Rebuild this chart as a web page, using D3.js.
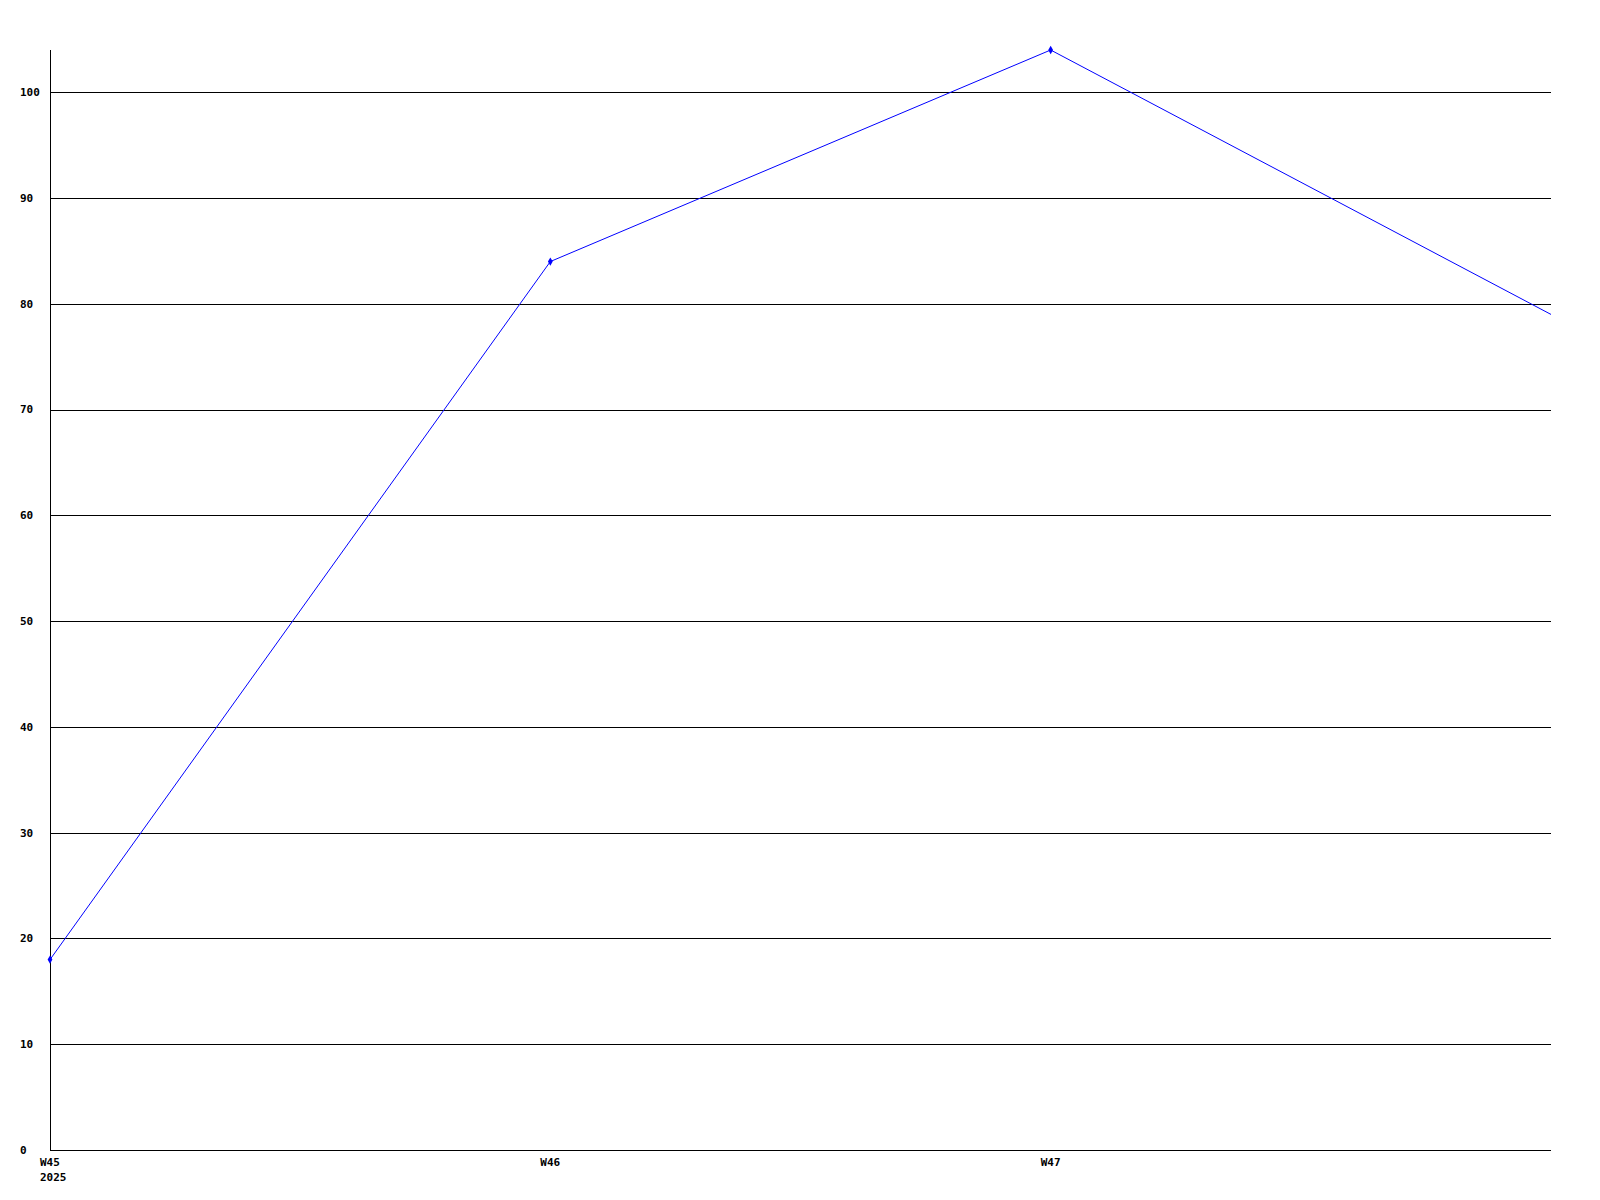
<!DOCTYPE html>
<html>
<head>
<meta charset="utf-8">
<script src="https://cdn.jsdelivr.net/npm/d3@7"></script>
<style>
  body { margin: 0; background: #fff; }
  text { font-family: "DejaVu Sans Mono", monospace; font-size: 11px; font-weight: bold; fill: #000; }
</style>
</head>
<body>
<div class="container"></div>
<script>
// weeks along the bottom, one value per week
var weeks = ["W45", "W46", "W47", "W48"];
var weekLabels = ["W45", "W46", "W47"];
var values = [18, 84, 104, 79];
var yTicks = [0, 10, 20, 30, 40, 50, 60, 70, 80, 90, 100];
var yearLabel = "2025";

var width = 1600,
    height = 1200,
    margin = {top: 50, right: 49, bottom: 50, left: 50};

var svg = d3.select("div.container").append("svg")
    .attr("width", width)
    .attr("height", height);

var x = d3.scalePoint()
    .domain(weeks)
    .range([margin.left, width - margin.right]);

var y = d3.scaleLinear()
    .domain([0, d3.max(values)])
    .range([height - margin.bottom, margin.top]);

function px(v) { return Math.round(v) + 0.5; }

// horizontal grid lines (skip 0, that's the axis)
svg.selectAll(".grid")
    .data(yTicks.filter(function(d) { return d > 0; }))
    .enter().append("line")
    .attr("class", "grid")
    .attr("x1", margin.left)
    .attr("x2", width - margin.right)
    .attr("y1", function(d) { return px(y(d)); })
    .attr("y2", function(d) { return px(y(d)); })
    .attr("stroke", "#000")
    .attr("shape-rendering", "crispEdges");

// axes lines
svg.append("line")
    .attr("x1", px(margin.left)).attr("x2", px(margin.left))
    .attr("y1", margin.top).attr("y2", px(y(0)))
    .attr("stroke", "#000").attr("shape-rendering", "crispEdges");
svg.append("line")
    .attr("x1", margin.left).attr("x2", width - margin.right)
    .attr("y1", px(y(0))).attr("y2", px(y(0)))
    .attr("stroke", "#000").attr("shape-rendering", "crispEdges");

// y labels, left aligned
svg.selectAll(".ylab")
    .data(yTicks)
    .enter().append("text")
    .attr("class", "ylab")
    .attr("x", 20)
    .attr("y", function(d) { return y(d); })
    .attr("dy", "0.35em")
    .text(function(d) { return d; });

// x labels
svg.selectAll(".xlab")
    .data(weekLabels)
    .enter().append("text")
    .attr("class", "xlab")
    .attr("x", function(d) { return x(d) - 10; })
    .attr("y", height - margin.bottom + 12)
    .attr("dy", "0.35em")
    .text(function(d) { return d; });

svg.append("text")
    .attr("x", x(weeks[0]) - 10)
    .attr("y", height - margin.bottom + 27)
    .attr("dy", "0.35em")
    .text(yearLabel);

// the series
var line = d3.line()
    .x(function(d, i) { return x(weeks[i]); })
    .y(function(d) { return y(d); });

svg.append("path")
    .datum(values)
    .attr("d", line)
    .attr("fill", "none")
    .attr("stroke", "#0000ff")
    .attr("stroke-width", 1);

svg.selectAll(".dot")
    .data(values.slice(0, 3))
    .enter().append("path")
    .attr("class", "dot")
    .attr("transform", function(d, i) { return "translate(" + x(weeks[i]) + "," + y(d) + ")"; })
    .attr("d", d3.symbol().type(d3.symbolDiamond).size(20))
    .attr("fill", "#0000ff");
</script>
</body>
</html>
